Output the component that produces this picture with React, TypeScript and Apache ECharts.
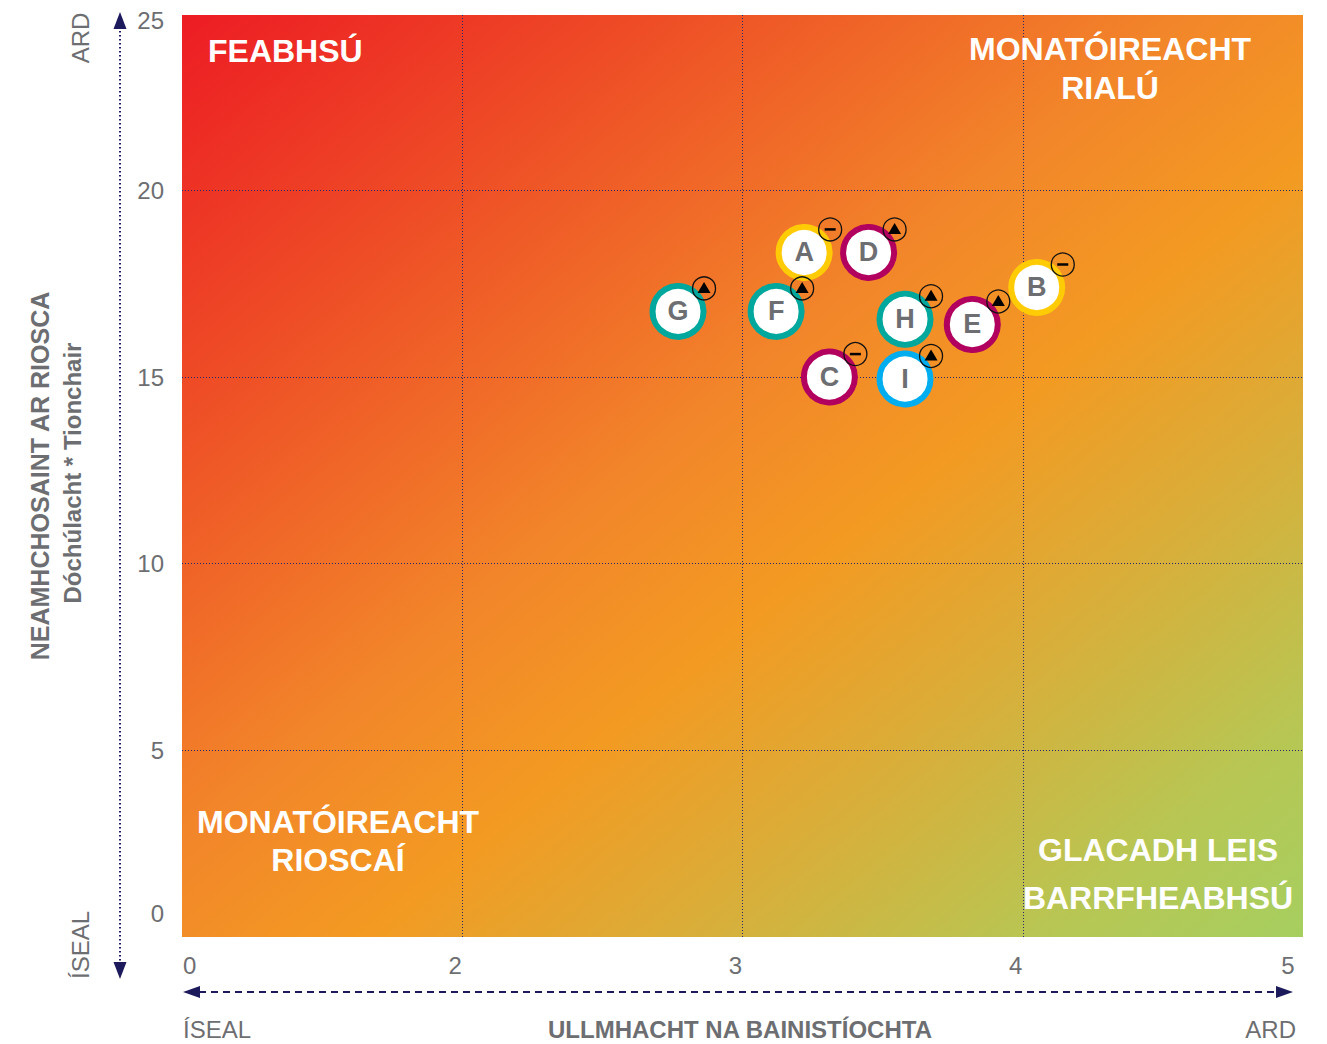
import React, { useEffect, useRef } from 'react';
import * as echarts from 'echarts';

// ---- data ----
const letters = ['A', 'B', 'C', 'D', 'E', 'F', 'G', 'H', 'I'];
const preparedness = [3.22, 4.05, 3.31, 3.45, 3.82, 3.12, 2.77, 3.58, 3.58];
const exposure = [18.34, 17.4, 15.0, 18.34, 16.41, 16.76, 16.76, 16.55, 14.95];
const ringColors = ['#FFCB05', '#FFCB05', '#B1005D', '#B1005D', '#B1005D', '#00A79D', '#00A79D', '#00A79D', '#00AEEF'];
const trends = ['steady', 'steady', 'steady', 'up', 'up', 'up', 'up', 'up', 'up'];

const xTickValues = [1, 2, 3, 4, 5];
const xTickLabels = ['0', '2', '3', '4', '5'];
const yTopLabel = '25';

const GRAY = '#6D6E71';
const NAVY = '#1D1A5C';
const FONT = "'Liberation Sans', Arial, sans-serif";

export default function App() {
  const ref = useRef<HTMLDivElement>(null);

  useEffect(() => {
    if (!ref.current) return;
    const chart = echarts.init(ref.current, null, { renderer: 'svg' });

    const points = letters.map((l, i) => ({
      name: l,
      value: [preparedness[i], exposure[i]],
      itemStyle: { color: '#FFFFFF', borderColor: ringColors[i], borderWidth: 6, opacity: 1 },
    }));
    const tagged = letters.map((l, i) => ({ name: l, value: [preparedness[i], exposure[i]], t: trends[i] }));
    const upPts = tagged.filter((p) => p.t === 'up').map((p) => ({ name: p.name, value: p.value }));
    const steadyPts = tagged.filter((p) => p.t === 'steady').map((p) => ({ name: p.name, value: p.value }));
    const allPts = tagged.map((p) => ({ name: p.name, value: p.value }));

    const quadText = (text: string, x: number, y: number, align: string) => ({
      type: 'text',
      x,
      y,
      z: 10,
      style: {
        text,
        fill: '#FFFFFF',
        fontFamily: FONT,
        fontWeight: 'bold',
        fontSize: 32,
        align,
        verticalAlign: 'middle',
      },
    });
    const grayText = (text: string, x: number, y: number, align: string, size: number, weight: string, rotation = 0) => ({
      type: 'text',
      x,
      y,
      rotation,
      style: {
        text,
        fill: GRAY,
        fontFamily: FONT,
        fontWeight: weight,
        fontSize: size,
        align,
        verticalAlign: 'middle',
      },
    });

    const option: any = {
      animation: false,
      grid: {
        left: 182,
        top: 15,
        width: 1121,
        height: 922,
        show: true,
        borderWidth: 0,
        containLabel: false,
        outerBoundsMode: 'none',
        backgroundColor: new echarts.graphic.LinearGradient(0, 0, 1, 1, [
          { offset: 0, color: '#ED1C24' },
          { offset: 0.2, color: '#EE4A26' },
          { offset: 0.45, color: '#F2862A' },
          { offset: 0.58, color: '#F39A22' },
          { offset: 0.74, color: '#D6B03C' },
          { offset: 0.88, color: '#B8C653' },
          { offset: 1, color: '#A6CF60' },
        ]),
      },
      xAxis: {
        type: 'value',
        min: xTickValues[0],
        max: xTickValues[xTickValues.length - 1],
        interval: 1,
        axisLine: { show: false },
        axisTick: { show: false },
        splitLine: {
          show: true,
          showMinLine: false,
          showMaxLine: false,
          lineStyle: { color: '#2A2866', width: 1, type: [1, 2] },
        },
        axisLabel: {
          show: true,
          margin: 16,
          color: GRAY,
          fontFamily: FONT,
          fontSize: 24,
          alignMinLabel: 'left',
          formatter: (v: number) => {
            const idx = xTickValues.indexOf(v);
            if (idx < 0) return '';
            if (idx === 0) return '{f|' + xTickLabels[idx] + '}';
            if (idx === xTickValues.length - 1) return '{m|' + xTickLabels[idx] + '}';
            return '{n|' + xTickLabels[idx] + '}';
          },
          rich: {
            f: { color: GRAY, fontFamily: FONT, fontSize: 24, padding: [0, 0, 0, 1] },
            n: { color: GRAY, fontFamily: FONT, fontSize: 24, padding: [0, 14, 0, 0] },
            m: { color: GRAY, fontFamily: FONT, fontSize: 24, padding: [0, 30, 0, 0] },
          },
        },
      },
      yAxis: {
        type: 'value',
        min: 0,
        max: 24.7,
        interval: 5,
        axisLine: { show: false },
        axisTick: { show: false },
        splitLine: {
          show: true,
          showMinLine: false,
          showMaxLine: false,
          lineStyle: { color: '#2A2866', width: 1, type: [1, 2] },
        },
        axisLabel: {
          show: true,
          showMaxLabel: true,
          margin: 18,
          color: GRAY,
          fontFamily: FONT,
          fontSize: 24,
          formatter: (v: number) => {
            if (v > 20) return '{t|' + yTopLabel + '}';
            if (v === 0) return '{b|0}';
            return String(v);
          },
          rich: {
            t: { color: GRAY, fontFamily: FONT, fontSize: 24, padding: [10, 0, 0, 0] },
            b: { color: GRAY, fontFamily: FONT, fontSize: 24, padding: [0, 0, 48, 0] },
          },
        },
      },
      series: [
        {
          type: 'scatter',
          symbol: 'circle',
          symbolSize: 51,
          z: 2,
          silent: true,
          data: points,
          itemStyle: { opacity: 1 },
          label: {
            show: true,
            position: 'inside',
            formatter: (p: any) => p.name,
            color: GRAY,
            fontFamily: FONT,
            fontWeight: 'bold',
            fontSize: 27,
          },
          emphasis: { disabled: true },
        },
        {
          type: 'scatter',
          symbol: 'circle',
          symbolSize: 23,
          symbolOffset: [26, -23],
          z: 3,
          silent: true,
          data: allPts,
          itemStyle: { color: 'rgba(0,0,0,0)', borderColor: '#111111', borderWidth: 1.3, opacity: 1 },
          emphasis: { disabled: true },
        },
        {
          type: 'scatter',
          symbol: 'triangle',
          symbolSize: [13, 11],
          symbolOffset: [26, -24],
          z: 4,
          silent: true,
          data: upPts,
          itemStyle: { color: '#000000', opacity: 1 },
          emphasis: { disabled: true },
        },
        {
          type: 'scatter',
          symbol: 'rect',
          symbolSize: [11, 2.5],
          symbolOffset: [26, -23],
          z: 4,
          silent: true,
          data: steadyPts,
          itemStyle: { color: '#000000', opacity: 1 },
          emphasis: { disabled: true },
        },
      ],
      graphic: [
        // quadrant labels
        quadText('FEABHSÚ', 208, 51, 'left'),
        quadText('MONATÓIREACHT', 1110, 49, 'center'),
        quadText('RIALÚ', 1110, 88, 'center'),
        quadText('MONATÓIREACHT', 338, 822, 'center'),
        quadText('RIOSCAÍ', 338, 860, 'center'),
        quadText('GLACADH LEIS', 1158, 850, 'center'),
        quadText('BARRFHEABHSÚ', 1158, 898, 'center'),
        // vertical arrow
        {
          type: 'line',
          shape: { x1: 120, y1: 27, x2: 120, y2: 964 },
          style: { stroke: NAVY, lineWidth: 2, lineDash: [1.5, 2.5] },
        },
        { type: 'polygon', shape: { points: [[120, 12], [113.5, 29], [126.5, 29]] }, style: { fill: NAVY } },
        { type: 'polygon', shape: { points: [[120, 979], [113.5, 962], [126.5, 962]] }, style: { fill: NAVY } },
        // horizontal arrow
        {
          type: 'line',
          shape: { x1: 199, y1: 992, x2: 1278, y2: 992 },
          style: { stroke: NAVY, lineWidth: 2, lineDash: [7, 5] },
        },
        { type: 'polygon', shape: { points: [[183, 992], [200, 986], [200, 998]] }, style: { fill: NAVY } },
        { type: 'polygon', shape: { points: [[1293, 992], [1276, 986], [1276, 998]] }, style: { fill: NAVY } },
        // axis end words
        grayText('ARD', 80, 38, 'center', 24, 'normal', Math.PI / 2),
        grayText('ÍSEAL', 80, 945, 'center', 24, 'normal', Math.PI / 2),
        grayText('ÍSEAL', 183, 1029, 'left', 24, 'normal'),
        grayText('ARD', 1296, 1029, 'right', 24, 'normal'),
        // axis titles
        grayText('ULLMHACHT NA BAINISTÍOCHTA', 740, 1029, 'center', 24, 'bold'),
        grayText('NEAMHCHOSAINT AR RIOSCA', 40, 476, 'center', 25, 'bold', Math.PI / 2),
        grayText('Dóchúlacht * Tionchair', 72, 473, 'center', 24, 'bold', Math.PI / 2),
      ],
    };

    chart.setOption(option);
    return () => chart.dispose();
  }, []);

  return (
    <div
      ref={ref}
      style={{ position: 'fixed', left: 0, top: 0, width: 1327, height: 1044, background: '#FFFFFF' }}
    />
  );
}
